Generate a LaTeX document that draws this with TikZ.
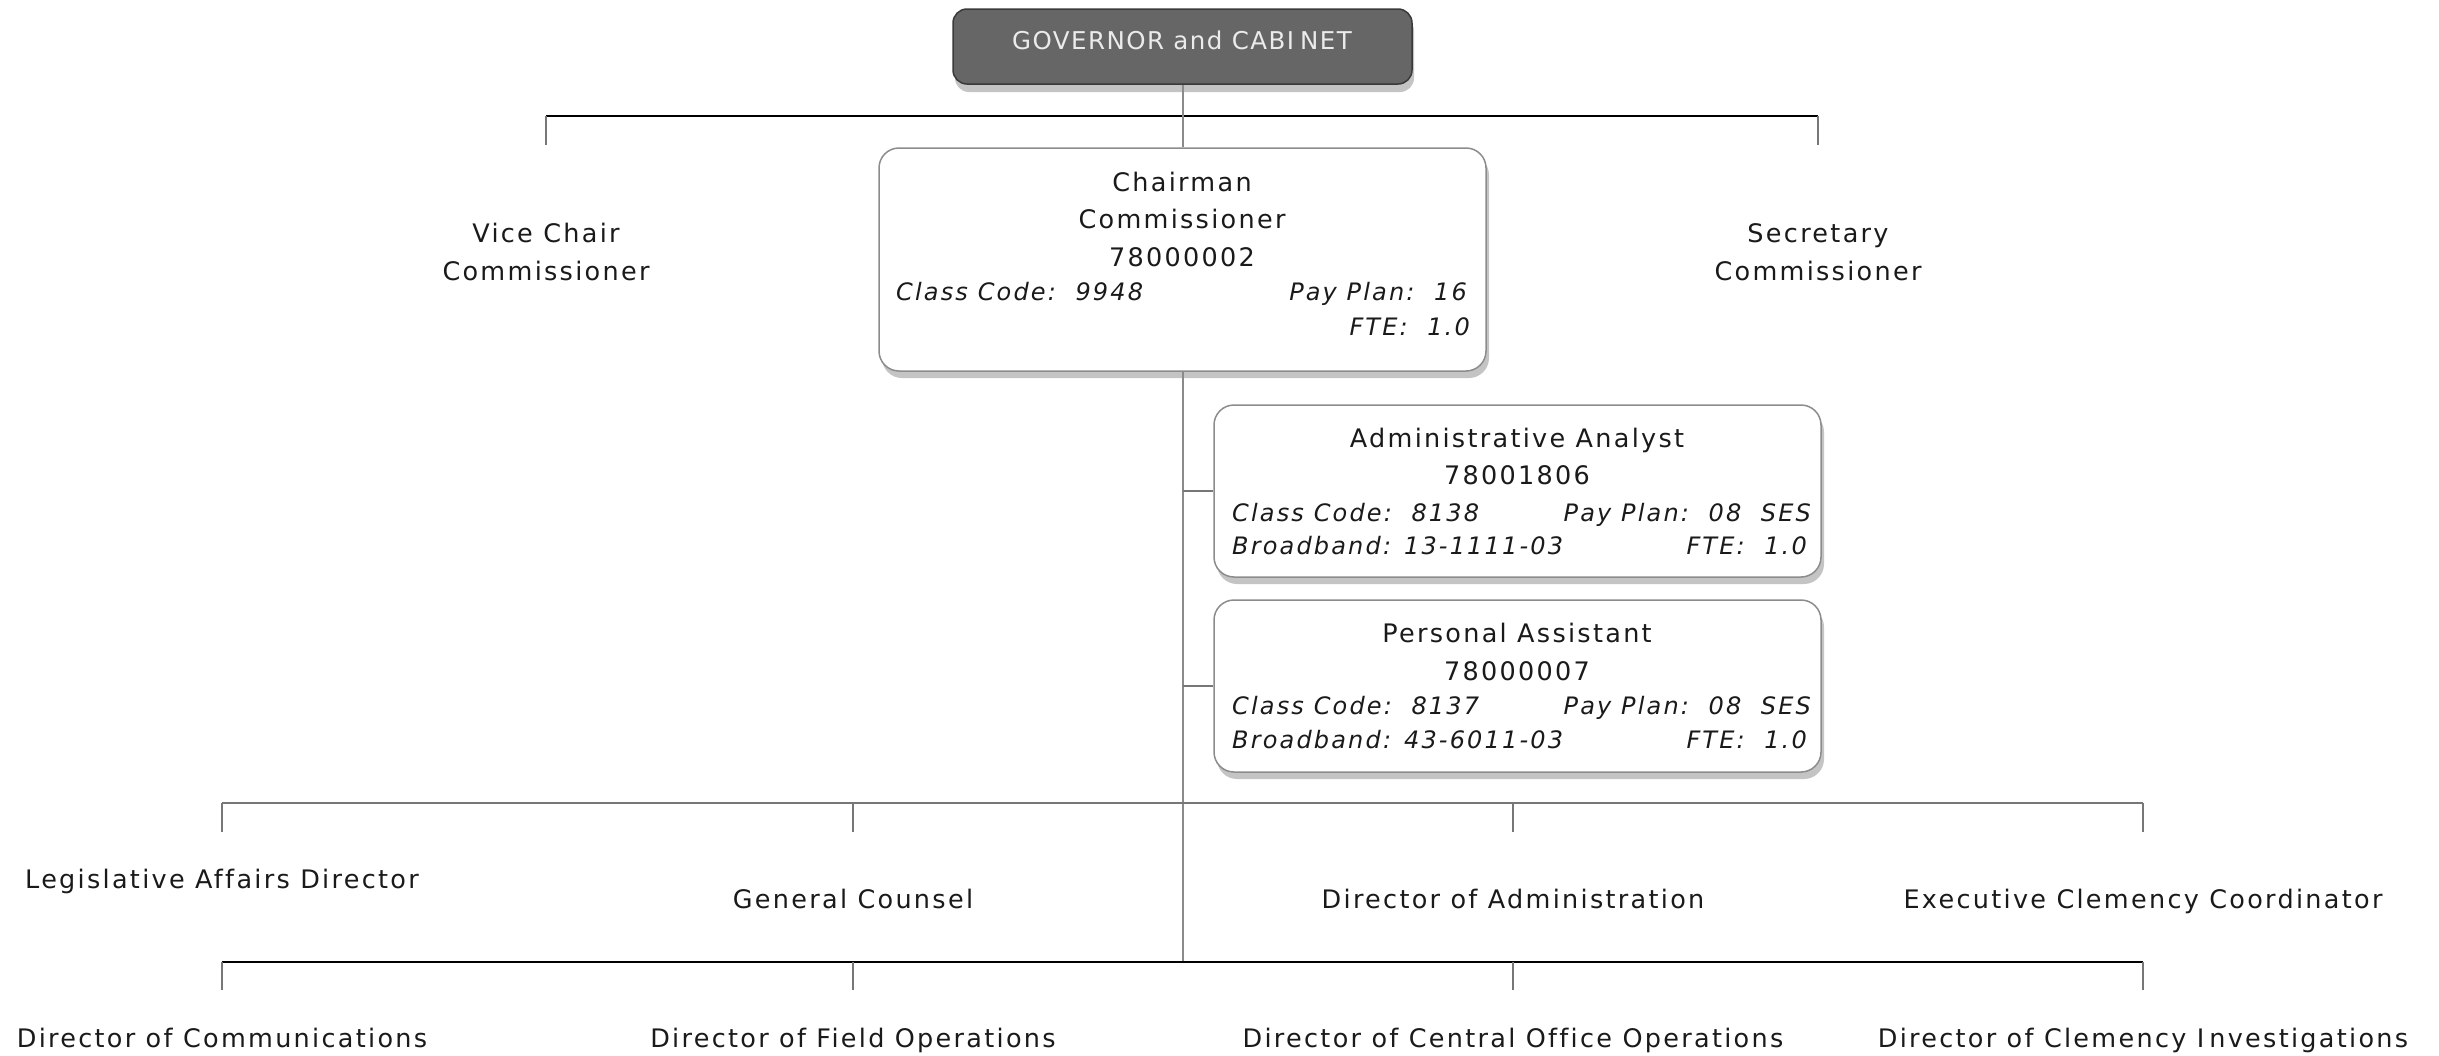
\documentclass[tikz,border=0pt]{standalone}
\usepackage{fontspec}
\setmainfont{DejaVu Sans}[LetterSpace=9,Ligatures=CommonOff]
\newfontfamily\govfont{DejaVu Sans}[LetterSpace=6,Ligatures=CommonOff]
\usetikzlibrary{shadows}
\definecolor{txt}{HTML}{1A1A1A}
\definecolor{boxline}{HTML}{8C8C8C}
\definecolor{shadowc}{HTML}{C4C4C4}
\definecolor{govfill}{HTML}{666666}
\definecolor{govline}{HTML}{3A3A3A}
\definecolor{govtxt}{HTML}{EBEBEB}
\definecolor{conn}{HTML}{8A8A8A}
\definecolor{rowline}{HTML}{777777}
\begin{document}
\begin{tikzpicture}[x=1pt,y=-1pt,
  card/.style={draw=boxline,line width=1.5pt,fill=white,rounded corners=20pt,inner sep=0pt,
    minimum width=607pt,
    drop shadow={shadow xshift=3pt,shadow yshift=-7pt,fill=shadowc,opacity=1}},
  govbox/.style={draw=govline,line width=1.5pt,fill=govfill,rounded corners=14pt,inner sep=0pt,
    minimum width=459pt,minimum height=75pt,
    drop shadow={shadow xshift=2pt,shadow yshift=-8pt,fill=shadowc,opacity=1}},
  lbl/.style={anchor=base,inner sep=0pt,text=txt,font=\fontsize{25.5}{30}\selectfont},
  lblw/.style={anchor=base west,inner sep=0pt,text=txt,font=\fontsize{24}{30}\selectfont\itshape},
  lble/.style={anchor=base east,inner sep=0pt,text=txt,font=\fontsize{24}{30}\selectfont\itshape},
  vconn/.style={draw=conn,line width=2pt},
  hconn/.style={draw=black,line width=1.5pt},
  rconn/.style={draw=rowline,line width=2pt},
  dconn/.style={draw=rowline,line width=1.5pt}]
\fill[white] (0,0) rectangle (2439,1055);
\useasboundingbox (0,0) rectangle (2439,1055);

% Governor
\node[govbox] (gov) at (1182.5,46.5) {};
\node[anchor=base,inner sep=0pt,text=govtxt,font=\govfont\fontsize{24.5}{29}\selectfont] (govt) at (1182,49) {GOVERNOR and CABI\kern6pt NET};

% top branch
\coordinate (tL) at (546,116);
\coordinate (tR) at (1818,116);
\coordinate (tLd) at (546,145);
\coordinate (tRd) at (1818,145);
\draw[hconn] (tL) -- (tR);
\draw[dconn] (tL) -- (tLd);
\draw[dconn] (tR) -- (tRd);
\node[lbl] (vc1) at (546,242) {Vice Chair};
\node[lbl] (vc2) at (546,280) {Commissioner};
\node[lbl] (sc1) at (1818,242) {Secretary};
\node[lbl] (sc2) at (1818,280) {Commissioner};

% Chairman
\node[card,minimum height=223pt] (chair) at (1182.5,259.5) {};
\node[lbl] (ch1) at (1182,191) {Chairman};
\node[lbl] (ch2) at (1182,228) {Commissioner};
\node[lbl] (ch3) at (1182,266) {78000002};
\node[lblw] (ch4) at (896,300) {Class Code:\ \ 9948};
\node[lble] (ch5) at (1467,300) {Pay Plan:\ \ 16};
\node[lble] (ch6) at (1470,335) {FTE:\ \ 1.0};

\draw[vconn] (gov.south) -- (chair.north);
\coordinate (j2) at (1182.5,962);
\draw[vconn] (chair.south) -- (j2);

% Administrative Analyst
\node[card,minimum height=172pt] (aa) at (1517.5,491) {};
\node[lbl] (aa1) at (1517,447) {Administrative Analyst};
\node[lbl] (aa2) at (1517,484) {78001806};
\node[lblw] (aa3) at (1232,521) {Class Code:\ \ 8138};
\node[lble] (aa4) at (1811,521) {Pay Plan:\ \ 08\ \ SES};
\node[lblw] (aa5) at (1232,554) {Broadband: 13-1111-03};
\node[lble] (aa6) at (1807,554) {FTE:\ \ 1.0};
\coordinate (b1) at (1182.5,491);
\draw[dconn] (b1) -- (aa.west);

% Personal Assistant
\node[card,minimum height=172pt] (pa) at (1517.5,686) {};
\node[lbl] (pa1) at (1517,642) {Personal Assistant};
\node[lbl] (pa2) at (1517,680) {78000007};
\node[lblw] (pa3) at (1232,714) {Class Code:\ \ 8137};
\node[lble] (pa4) at (1811,714) {Pay Plan:\ \ 08\ \ SES};
\node[lblw] (pa5) at (1232,748) {Broadband: 43-6011-03};
\node[lble] (pa6) at (1807,748) {FTE:\ \ 1.0};
\coordinate (b2) at (1182.5,686);
\draw[dconn] (b2) -- (pa.west);

% Row 1
\coordinate (r1a) at (222,803);
\coordinate (r1b) at (853,803);
\coordinate (r1c) at (1513,803);
\coordinate (r1d) at (2143,803);
\coordinate (r1ad) at (222,832);
\coordinate (r1bd) at (853,832);
\coordinate (r1cd) at (1513,832);
\coordinate (r1dd) at (2143,832);
\draw[rconn] (r1a) -- (r1d);
\draw[dconn] (r1a) -- (r1ad);
\draw[dconn] (r1b) -- (r1bd);
\draw[dconn] (r1c) -- (r1cd);
\draw[dconn] (r1d) -- (r1dd);
\node[lbl] (l1) at (222,888) {Legislative Affairs Director};
\node[lbl] (l2) at (853,908) {General Counsel};
\node[lbl] (l3) at (1513,908) {Director of Administration};
\node[lbl] (l4) at (2143,908) {Executive Clemency Coordinator};

% Row 2
\coordinate (r2a) at (222,962);
\coordinate (r2b) at (853,962);
\coordinate (r2c) at (1513,962);
\coordinate (r2d) at (2143,962);
\coordinate (r2ad) at (222,990);
\coordinate (r2bd) at (853,990);
\coordinate (r2cd) at (1513,990);
\coordinate (r2dd) at (2143,990);
\draw[hconn] (r2a) -- (r2d);
\draw[dconn] (r2a) -- (r2ad);
\draw[dconn] (r2b) -- (r2bd);
\draw[dconn] (r2c) -- (r2cd);
\draw[dconn] (r2d) -- (r2dd);
\node[lbl] (m1) at (222,1047) {Director of Communications};
\node[lbl] (m2) at (853,1047) {Director of Field Operations};
\node[lbl] (m3) at (1513,1047) {Director of Central Office Operations};
\node[lbl] (m4) at (2143,1047) {Director of Clemency I\kern5pt nvestigations};
\end{tikzpicture}
\end{document}
